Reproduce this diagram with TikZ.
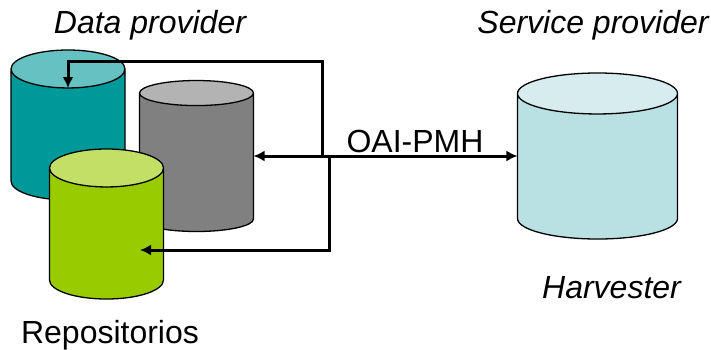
\documentclass[tikz,border=0pt]{standalone}
\usepackage{fontspec}
\setmainfont{Liberation Sans}
\usetikzlibrary{shapes.geometric,arrows.meta}
\definecolor{tealbody}{HTML}{009999}
\definecolor{tealtop}{HTML}{66C2C2}
\definecolor{graybody}{HTML}{808080}
\definecolor{graytop}{HTML}{B3B3B3}
\definecolor{greenbody}{HTML}{99CC00}
\definecolor{greentop}{HTML}{C2E066}
\definecolor{lightbody}{HTML}{B9E0E3}
\definecolor{lighttop}{HTML}{D6ECEF}
\tikzset{
  dbcyl/.style={cylinder, shape border rotate=90, draw, line width=1.3pt, outer sep=0pt,
    inner ysep=0pt, anchor=shape center, cylinder uses custom fill},
  dbbody/.style 2 args={cylinder body fill=#1, cylinder end fill=#2},
  link/.style={line width=3pt, -{Latex[length=11pt,width=11pt]}},
  tag/.style={font=\fontsize{32}{36}\selectfont, inner sep=0pt, anchor=base},
  itag/.style={tag, font=\fontsize{32}{36}\selectfont\itshape}
}
\begin{document}
\begin{tikzpicture}[x=1pt,y=-1pt]
\useasboundingbox (0,0) rectangle (711,349);

\node[dbcyl, dbbody={tealbody}{tealtop}, inner xsep=57pt, minimum width=114pt, minimum height=150pt, shape aspect=.333] (teal) at (68,125) {};
\node[dbcyl, dbbody={graybody}{graytop}, inner xsep=57pt, minimum width=114pt, minimum height=151pt, shape aspect=.22] (gray) at (196.5,156) {};
\node[dbcyl, dbbody={greenbody}{greentop}, inner xsep=57pt, minimum width=114pt, minimum height=150pt, shape aspect=.333] (green) at (106.5,224) {};
\node[dbcyl, dbbody={lightbody}{lighttop}, inner xsep=80pt, minimum width=160pt, minimum height=166pt, shape aspect=.256] (light) at (597.5,156) {};

\coordinate (hub) at (322,156);
\coordinate (branch) at (329,156);
\coordinate (tealend) at (68,88);
\coordinate (greenend) at (140,250);

\draw[link] (hub) -- (322,61) -| (tealend);
\draw[link] (branch) |- (greenend);
\draw[link, {Latex[length=11pt,width=11pt]}-{Latex[length=11pt,width=11pt]}] (gray.east |- hub) -- (light.west |- hub);

\node[itag] (dataprov) at (150,33) {Data provider};
\node[itag] (serviceprov) at (593,33) {Service provider};
\node[itag] (harvester) at (611.5,298) {Harvester};
\node[tag] (repos) at (110,343) {Repositorios};
\node[tag] (oai) at (415,152) {OAI-PMH};

\end{tikzpicture}
\end{document}
